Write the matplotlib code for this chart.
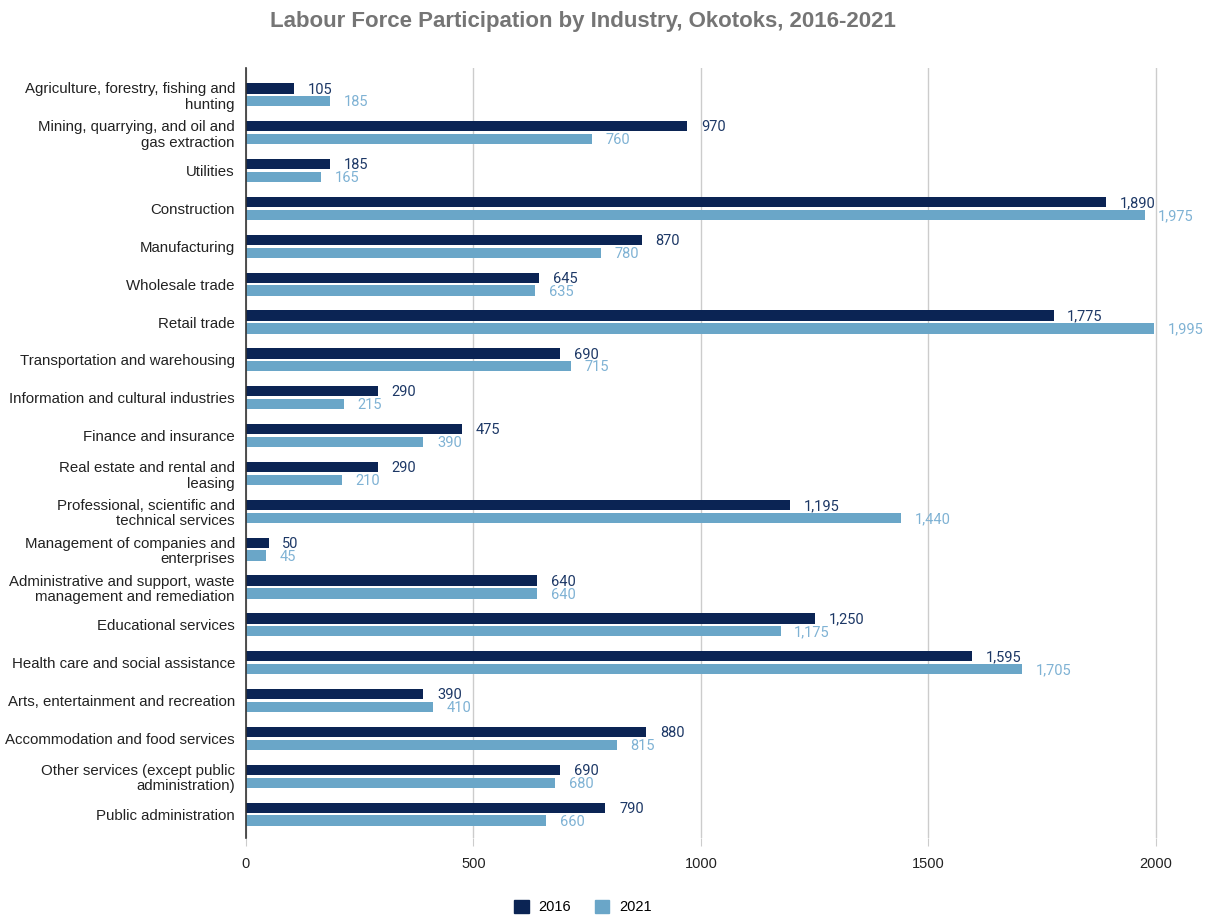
import numpy as np
import matplotlib.pyplot as plt
from matplotlib.patches import Patch

industries = [
    "Agriculture, forestry, fishing and\nhunting",
    "Mining, quarrying, and oil and\ngas extraction",
    "Utilities",
    "Construction",
    "Manufacturing",
    "Wholesale trade",
    "Retail trade",
    "Transportation and warehousing",
    "Information and cultural industries",
    "Finance and insurance",
    "Real estate and rental and\nleasing",
    "Professional, scientific and\ntechnical services",
    "Management of companies and\nenterprises",
    "Administrative and support, waste\nmanagement and remediation",
    "Educational services",
    "Health care and social assistance",
    "Arts, entertainment and recreation",
    "Accommodation and food services",
    "Other services (except public\nadministration)",
    "Public administration",
]
y2016 = [105, 970, 185, 1890, 870, 645, 1775, 690, 290, 475,
         290, 1195, 50, 640, 1250, 1595, 390, 880, 690, 790]
y2021 = [185, 760, 165, 1975, 780, 635, 1995, 715, 215, 390,
         210, 1440, 45, 640, 1175, 1705, 410, 815, 680, 660]
years = ["2016", "2021"]

dark = "#0b2454"
light = "#6aa6c8"
dark_txt = "#1d3866"
light_txt = "#7fb2d4"

fig = plt.figure(figsize=(12.13, 9.15), dpi=100)
# 0..2010 over ~915 px, so the 2000 gridline is not on the clip edge
ax = fig.add_axes([246 / 1213, 1 - 838 / 915, 914.5 / 1213, 770 / 915])

pos = np.arange(len(industries))
off = 0.17
h = 0.27
ax.barh(pos - off, y2016, height=h, color=dark, zorder=3)
ax.barh(pos + off, y2021, height=h, color=light, zorder=3)

for p, v in zip(pos, y2016):
    ax.text(v + 30, p - off + 0.03, f"{v:,}", color=dark_txt, fontsize=10.5,
            family="Roboto", va="center", ha="left", clip_on=False)
for p, v in zip(pos, y2021):
    ax.text(v + 30, p + off + 0.03, f"{v:,}", color=light_txt, fontsize=10.5,
            family="Roboto", va="center", ha="left", clip_on=False)

ax.set_xlim(0, 2010)
ax.set_ylim(19.63, -0.71)
ax.set_yticks(pos)
ax.set_yticklabels(industries, fontsize=10.8, family="Liberation Sans",
                   color="#222222", linespacing=1.15)
ax.set_xticks([0, 500, 1000, 1500, 2000])
ax.set_xticklabels(["0", "500", "1000", "1500", "2000"], fontsize=10.5,
                   family="Liberation Sans", color="#222222")
ax.tick_params(axis="y", length=0, pad=8)
ax.tick_params(axis="x", length=6, color="#cccccc", pad=8)
ax.xaxis.grid(True, color="#cccccc", linewidth=1, zorder=0)
for s in ["top", "right", "bottom"]:
    ax.spines[s].set_visible(False)
ax.spines["left"].set_color("#333333")
ax.spines["left"].set_linewidth(1.2)
ax.spines["left"].set_zorder(4)

fig.text(583 / 1213, 1 - 22 / 915, "Labour Force Participation by Industry, Okotoks, 2016-2021",
         ha="center", va="center", fontsize=16, fontweight="bold",
         color="#757575", family="Liberation Sans")

handles = [Patch(color=dark), Patch(color=light)]
fig.legend(handles, years, loc="center", bbox_to_anchor=(583 / 1213, 1 - 907 / 915),
           ncol=2, frameon=False, prop={"family": "Liberation Sans", "size": 10.5},
           handlelength=1.0, handleheight=1.0, columnspacing=1.6, handletextpad=0.7)

fig.savefig("out.png", dpi=100)
